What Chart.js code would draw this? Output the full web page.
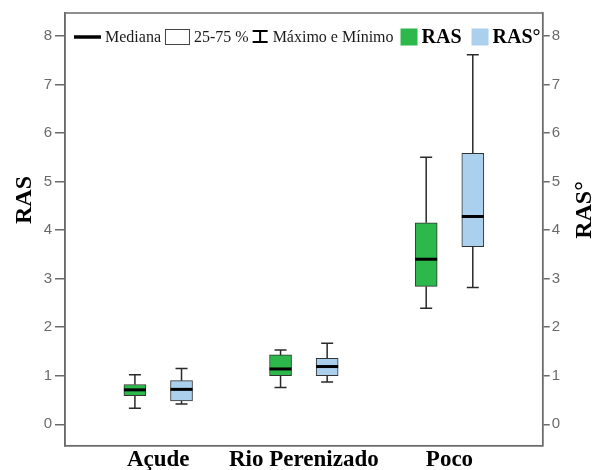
<!DOCTYPE html>
<html>
<head>
<meta charset="utf-8">
<script src="https://cdn.jsdelivr.net/npm/chart.js@4/dist/chart.umd.min.js"></script>
<style>
  html, body { margin: 0; padding: 0; background: #fff; }
  #wrap { width: 595px; height: 470px; }
</style>
</head>
<body>
<div id="wrap"><canvas id="c" width="595" height="470"></canvas></div>
<script>
// Sites sampled
const categories = ['Açude', 'Rio Perenizado', 'Poco'];
const groupPos = [1, 2, 3];

// RAS: five-number summaries per site
const rasMin = [0.33, 0.76, 2.39];
const rasQ1  = [0.59, 1.00, 2.84];
const rasMed = [0.71, 1.14, 3.40];
const rasQ3  = [0.82, 1.43, 4.15];
const rasMax = [1.02, 1.53, 5.50];

// RAS°: five-number summaries per site
const rasoMin = [0.42, 0.87, 2.82];
const rasoQ1  = [0.48, 1.00, 3.66];
const rasoMed = [0.72, 1.19, 4.28];
const rasoQ3  = [0.90, 1.36, 5.58];
const rasoMax = [1.15, 1.67, 7.61];

const yTicks = [0, 1, 2, 3, 4, 5, 6, 7, 8];

const GREEN = '#2db84b';
const BLUE = '#abd0ee';
const SERIF = '"Liberation Serif", "Times New Roman", serif';
const SANS = '"Liberation Sans", Arial, sans-serif';
const SHIFT = 0.16;

function boxes(q1, q3, dx) {
  return groupPos.map((g, i) => ({ x: g + dx, y: [q1[i], q3[i]] }));
}

const summaries = [
  { min: rasMin, med: rasMed, max: rasMax },
  { min: rasoMin, med: rasoMed, max: rasoMax }
];

// Whiskers, caps and medians drawn on top of the floating bars
const boxPlotExtras = {
  id: 'boxPlotExtras',
  afterDatasetsDraw(chart) {
    const ctx = chart.ctx;
    const y = chart.scales.y;
    chart.data.datasets.forEach((ds, di) => {
      const meta = chart.getDatasetMeta(di);
      const s = summaries[di];
      meta.data.forEach((bar, i) => {
        const cx = bar.x;
        const half = bar.width / 2;
        const pQ1 = y.getPixelForValue(ds.data[i].y[0]);
        const pQ3 = y.getPixelForValue(ds.data[i].y[1]);
        const pMin = y.getPixelForValue(s.min[i]);
        const pMax = y.getPixelForValue(s.max[i]);
        const pMed = y.getPixelForValue(s.med[i]);
        ctx.save();
        ctx.strokeStyle = '#2a2a2a';
        ctx.lineWidth = 1.5;
        ctx.beginPath();
        ctx.moveTo(cx, pQ3); ctx.lineTo(cx, pMax);
        ctx.moveTo(cx, pQ1); ctx.lineTo(cx, pMin);
        ctx.moveTo(cx - 6, pMax); ctx.lineTo(cx + 6, pMax);
        ctx.moveTo(cx - 6, pMin); ctx.lineTo(cx + 6, pMin);
        ctx.stroke();
        ctx.strokeStyle = '#000';
        ctx.lineWidth = 3;
        ctx.beginPath();
        ctx.moveTo(cx - half, pMed); ctx.lineTo(cx + half, pMed);
        ctx.stroke();
        ctx.restore();
      });
    });
  }
};

// Frame, axis titles and the in-plot key
const frameAndKey = {
  id: 'frameAndKey',
  afterDraw(chart) {
    const ctx = chart.ctx;
    const a = chart.chartArea;
    ctx.save();
    ctx.strokeStyle = '#6b6b6b';
    ctx.lineWidth = 1.5;
    ctx.strokeRect(a.left, a.top, a.right - a.left, a.bottom - a.top);

    // axis titles
    ctx.fillStyle = '#000';
    ctx.font = 'bold 24px ' + SERIF;
    ctx.textAlign = 'center';
    ctx.textBaseline = 'middle';
    ctx.save();
    ctx.translate(25, 200);
    ctx.rotate(-Math.PI / 2);
    ctx.fillText('RAS', 0, 0);
    ctx.restore();
    ctx.save();
    ctx.translate(585, 210);
    ctx.rotate(-Math.PI / 2);
    ctx.fillText('RAS°', 0, 0);
    ctx.restore();

    // key
    const cy = 37;
    let x = 74;
    ctx.textAlign = 'left';
    ctx.textBaseline = 'middle';
    ctx.fillStyle = '#1a1a1a';

    ctx.strokeStyle = '#000';
    ctx.lineWidth = 3.5;
    ctx.beginPath(); ctx.moveTo(x, cy); ctx.lineTo(x + 27, cy); ctx.stroke();
    x += 31;
    ctx.font = '16px ' + SERIF;
    ctx.fillText('Mediana', x, cy + 1);
    x += ctx.measureText('Mediana').width + 4;

    ctx.strokeStyle = '#444';
    ctx.lineWidth = 1;
    ctx.strokeRect(x + 0.5, cy - 7.5, 24, 15);
    x += 29;
    ctx.fillText('25-75 %', x, cy + 1);
    x += ctx.measureText('25-75 %').width + 4;

    ctx.strokeStyle = '#000';
    ctx.lineWidth = 2;
    ctx.beginPath();
    ctx.moveTo(x, cy - 6); ctx.lineTo(x + 15, cy - 6);
    ctx.moveTo(x + 7.5, cy - 6); ctx.lineTo(x + 7.5, cy + 5);
    ctx.moveTo(x, cy + 5); ctx.lineTo(x + 15, cy + 5);
    ctx.stroke();
    x += 20;
    ctx.fillText('Máximo e Mínimo', x, cy + 1);
    x += ctx.measureText('Máximo e Mínimo').width + 7;

    ctx.fillStyle = GREEN;
    ctx.fillRect(x, cy - 8.5, 17, 17);
    x += 21;
    ctx.fillStyle = '#000';
    ctx.font = 'bold 20px ' + SERIF;
    ctx.fillText('RAS', x, cy + 1);
    x += ctx.measureText('RAS').width + 10;

    ctx.fillStyle = BLUE;
    ctx.fillRect(x, cy - 8.5, 17, 17);
    x += 21;
    ctx.fillStyle = '#000';
    ctx.fillText('RAS°', x, cy + 1);
    ctx.restore();
  }
};

const yCommon = {
  type: 'linear',
  min: -0.44,
  max: 8.47,
  afterBuildTicks(scale) { scale.ticks = yTicks.map(v => ({ value: v })); },
  grid: { drawOnChartArea: false, drawTicks: true, color: '#6b6b6b', lineWidth: 1.5 },
  border: { display: true, color: '#6b6b6b', width: 1.5 },
  ticks: { color: '#6a6a6a', font: { family: SANS, size: 15 } }
};

new Chart(document.getElementById('c'), {
  type: 'bar',
  data: {
    datasets: [
      {
        label: 'RAS',
        data: boxes(rasQ1, rasQ3, -SHIFT),
        backgroundColor: GREEN,
        borderColor: '#333',
        borderWidth: 1,
        borderSkipped: false,
        barThickness: 22,
        grouped: false,
        yAxisID: 'y'
      },
      {
        label: 'RAS°',
        data: boxes(rasoQ1, rasoQ3, SHIFT),
        backgroundColor: BLUE,
        borderColor: '#333',
        borderWidth: 1,
        borderSkipped: false,
        barThickness: 22,
        grouped: false,
        yAxisID: 'y'
      }
    ]
  },
  options: {
    responsive: false,
    devicePixelRatio: 1,
    animation: false,
    layout: { padding: { top: 13, left: 0, right: 0, bottom: 0 } },
    plugins: { legend: { display: false }, tooltip: { enabled: false } },
    scales: {
      x: {
        type: 'linear',
        min: 0.36,
        max: 3.64,
        offset: false,
        afterBuildTicks(scale) { scale.ticks = groupPos.map(v => ({ value: v })); },
        afterFit(scale) { scale.height = 24.3; },
        grid: { display: false, drawTicks: false, offset: false },
        border: { display: true, color: '#6b6b6b', width: 1.5 },
        ticks: {
          color: '#000',
          padding: 3,
          maxRotation: 0,
          autoSkip: false,
          font: { family: SERIF, size: 23, weight: 'bold', lineHeight: 1 },
          callback: (v) => categories[groupPos.indexOf(v)]
        }
      },
      y: Object.assign({}, yCommon, {
        position: 'left',
        afterFit(scale) { scale.width = 65; },
        grid: Object.assign({}, yCommon.grid, { tickLength: 10 }),
        ticks: Object.assign({}, yCommon.ticks, { padding: 3 })
      }),
      y2: Object.assign({}, yCommon, {
        position: 'right',
        afterFit(scale) { scale.width = 52.3; },
        grid: Object.assign({}, yCommon.grid, { tickLength: 7 }),
        ticks: Object.assign({}, yCommon.ticks, { padding: 2 })
      })
    }
  },
  plugins: [boxPlotExtras, frameAndKey]
});
</script>
</body>
</html>
